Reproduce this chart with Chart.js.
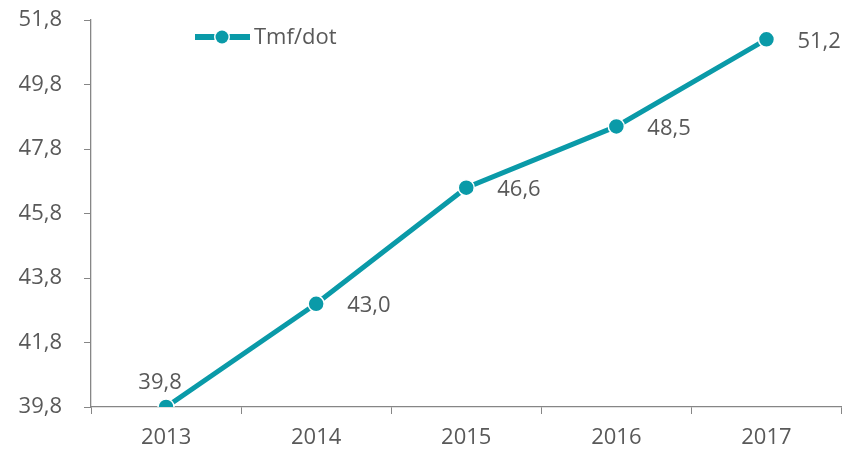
<!DOCTYPE html>
<html>
<head>
<meta charset="utf-8">
<script src="https://cdn.jsdelivr.net/npm/chart.js@4"></script>
<style>
  html, body { margin: 0; padding: 0; background: #fff; }
  #wrap { width: 846px; height: 451px; overflow: hidden; }
</style>
</head>
<body>
<div id="wrap"><canvas id="chart" width="851" height="451"></canvas></div>
<script>
const years = ["2013", "2014", "2015", "2016", "2017"];
const tmfDot = [39.8, 43.0, 46.6, 48.5, 51.2];
const yTicks = [39.8, 41.8, 43.8, 45.8, 47.8, 49.8, 51.8];
const seriesName = "Tmf/dot";

const teal = "#0a9aa8";
const grey = "#868686";
const textColor = "#595959";
const fontFamily = "'Open Sans', sans-serif";
const fontSize = 22;

const fmt = v => v.toFixed(1).replace(".", ",");

// data labels + legend drawn by hand
const labelsPlugin = {
  id: "labels",
  afterDatasetsDraw(chart) {
    const ctx = chart.ctx;
    const meta = chart.getDatasetMeta(0);
    ctx.save();
    ctx.font = fontSize + "px " + fontFamily;
    ctx.fillStyle = textColor;
    ctx.textBaseline = "middle";
    meta.data.forEach((pt, i) => {
      if (i === 0) {
        ctx.textAlign = "center";
        ctx.fillText(fmt(tmfDot[i]), pt.x - 6, pt.y - 24);
      } else {
        ctx.textAlign = "left";
        ctx.fillText(fmt(tmfDot[i]), pt.x + 31, pt.y + 2);
      }
    });

    // legend
    const ly = 37;
    ctx.strokeStyle = teal;
    ctx.lineWidth = 6;
    ctx.beginPath();
    ctx.moveTo(195, ly);
    ctx.lineTo(250, ly);
    ctx.stroke();
    ctx.beginPath();
    ctx.arc(222, ly, 8, 0, Math.PI * 2);
    ctx.fillStyle = "#fff";
    ctx.fill();
    ctx.beginPath();
    ctx.arc(222, ly, 6.5, 0, Math.PI * 2);
    ctx.fillStyle = teal;
    ctx.fill();
    ctx.fillStyle = textColor;
    ctx.textAlign = "left";
    ctx.fillText(seriesName, 254, ly + 1);
    ctx.restore();
  }
};

const ctx = document.getElementById("chart").getContext("2d");
new Chart(ctx, {
  type: "line",
  data: {
    labels: years,
    datasets: [{
      label: seriesName,
      data: tmfDot,
      borderColor: teal,
      backgroundColor: teal,
      borderWidth: 5,
      pointRadius: 8,
      pointBorderColor: "#fff",
      pointBorderWidth: 1.5,
      pointBackgroundColor: teal,
      tension: 0
    }]
  },
  options: {
    responsive: false,
    animation: false,
    layout: { padding: { top: 20, right: 0, left: 0, bottom: 0 } },
    plugins: {
      legend: { display: false },
      tooltip: { enabled: false }
    },
    scales: {
      x: {
        offset: true,
        grid: {
          offset: true,
          drawOnChartArea: false,
          tickLength: 7,
          color: grey,
          tickColor: grey
        },
        border: { color: grey, width: 1.3 },
        ticks: {
          color: textColor,
          font: { family: fontFamily, size: fontSize },
          padding: 11,
          maxRotation: 0
        },
        afterFit(scale) {
          scale.height = 44;
          scale.paddingLeft = 0;
          scale.paddingRight = 0;
        }
      },
      y: {
        min: 39.8,
        max: 51.8,
        grid: {
          drawOnChartArea: false,
          tickLength: 7,
          color: grey,
          tickColor: grey
        },
        border: { color: grey, width: 1.3 },
        ticks: {
          color: textColor,
          font: { family: fontFamily, size: fontSize },
          padding: 22,
          callback: v => fmt(v)
        },
        afterBuildTicks(scale) {
          scale.ticks = yTicks.map(v => ({ value: v }));
        },
        afterFit(scale) {
          scale.width = 91;
          scale.paddingTop = 0;
          scale.paddingBottom = 0;
        }
      }
    }
  },
  plugins: [labelsPlugin]
});
</script>
</body>
</html>
